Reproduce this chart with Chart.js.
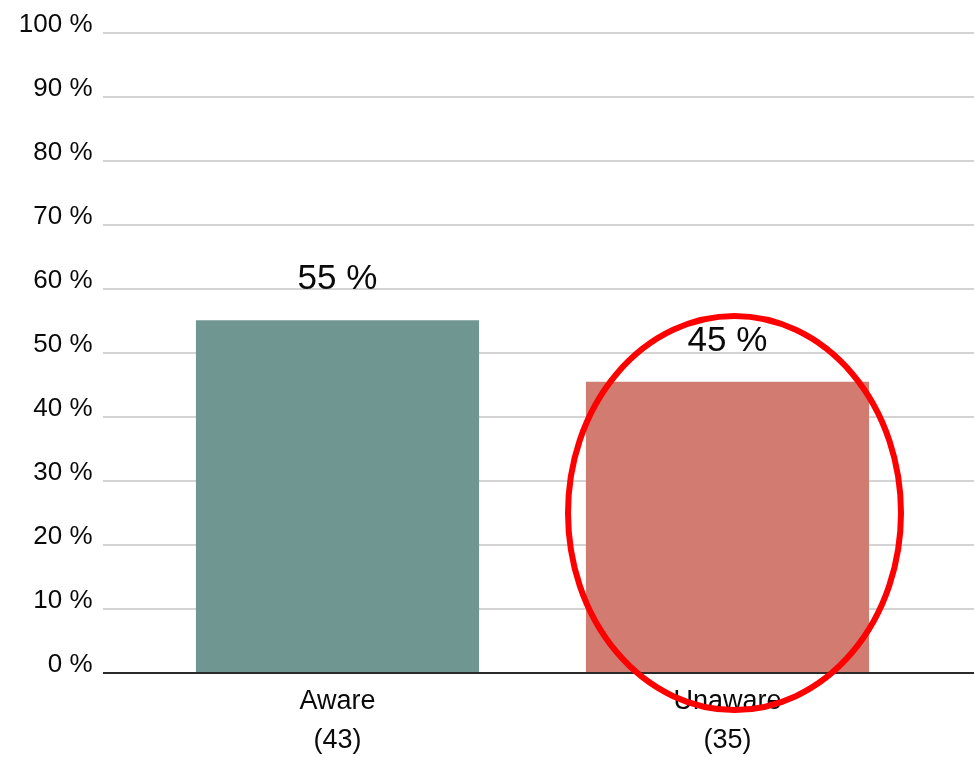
<!DOCTYPE html>
<html>
<head>
<meta charset="utf-8">
<script src="https://cdn.jsdelivr.net/npm/chart.js@4/dist/chart.umd.min.js"></script>
<style>
  html, body { margin: 0; padding: 0; background: #ffffff; }
  #wrap { width: 974px; height: 757px; position: relative; }
</style>
</head>
<body>
<div id="wrap"><canvas id="c" width="974" height="757"></canvas></div>
<script>
const categories = ["Aware", "Unaware"];
const respondents = [43, 35];
const shares = [55.1, 45.5];
const shareLabels = ["55 %", "45 %"];
const yTickValues = [0, 10, 20, 30, 40, 50, 60, 70, 80, 90, 100];
const highlightedCategory = "Unaware";

const barColors = ["#6f9691", "#d27b71"];

const extendedGrid = {
  id: 'extendedGrid',
  beforeDatasetsDraw(chart) {
    const ctx = chart.ctx, y = chart.scales.y;
    ctx.save();
    ctx.strokeStyle = '#d4d4d4';
    ctx.lineWidth = 2;
    yTickValues.forEach(v => {
      if (v === 0) return;
      const py = Math.round(y.getPixelForValue(v));
      ctx.beginPath();
      ctx.moveTo(103, py);
      ctx.lineTo(chart.width, py);
      ctx.stroke();
    });
    ctx.restore();
  },
  afterDatasetsDraw(chart) {
    const ctx = chart.ctx, y = chart.scales.y;
    ctx.save();
    const p0 = Math.round(y.getPixelForValue(0));
    ctx.strokeStyle = '#2b2b2b';
    ctx.lineWidth = 2;
    ctx.beginPath();
    ctx.moveTo(103, p0);
    ctx.lineTo(chart.width, p0);
    ctx.stroke();
    const meta = chart.getDatasetMeta(0);
    ctx.fillStyle = '#0a0a0a';
    ctx.textAlign = 'center';
    ctx.textBaseline = 'alphabetic';
    ctx.font = '35px "Liberation Sans", Arial, sans-serif';
    meta.data.forEach((bar, i) => {
      ctx.fillText(shareLabels[i], bar.x, bar.y - 31);
    });
    ctx.restore();
  },
  afterDraw(chart) {
    const ctx = chart.ctx, x = chart.scales.x, y = chart.scales.y;
    const idx = categories.indexOf(highlightedCategory);
    const cx = x.getPixelForValue(idx) + 7;
    const cy = y.getPixelForValue(25);
    ctx.save();
    ctx.strokeStyle = '#ff0000';
    ctx.lineWidth = 6;
    ctx.beginPath();
    ctx.ellipse(cx, cy, 166.5, 197, 0, 0, Math.PI * 2);
    ctx.stroke();
    ctx.restore();
  }
};

new Chart(document.getElementById('c'), {
  type: 'bar',
  data: {
    labels: categories.map((c, i) => [c, '(' + respondents[i] + ')']),
    datasets: [{
      data: shares,
      backgroundColor: barColors,
      borderWidth: 0,
      barPercentage: 0.726,
      categoryPercentage: 1.0
    }]
  },
  options: {
    responsive: false,
    animation: false,
    devicePixelRatio: 1,
    layout: { padding: { top: 33, right: 51.5, bottom: 0, left: 0 } },
    plugins: { legend: { display: false }, tooltip: { enabled: false } },
    scales: {
      x: {
        grid: { display: false, drawTicks: false },
        border: { display: false },
        ticks: {
          color: '#0a0a0a',
          font: { family: '"Liberation Sans", Arial, sans-serif', size: 27, lineHeight: 1.45 },
          padding: 9,
          maxRotation: 0
        },
        afterFit(s) { s.height = 84; }
      },
      y: {
        min: 0, max: 100,
        afterBuildTicks(s) { s.ticks = yTickValues.map(v => ({ value: v })); },
        grid: { display: false, drawTicks: true, tickLength: 50 },
        border: { display: false },
        ticks: {
          color: '#0a0a0a',
          font: { family: '"Liberation Sans", Arial, sans-serif', size: 26 },
          padding: 0,
          labelOffset: -8,
          callback: v => v + ' %'
        },
        afterFit(s) { s.width = 142.5; }
      }
    }
  },
  plugins: [extendedGrid]
});
</script>
</body>
</html>
